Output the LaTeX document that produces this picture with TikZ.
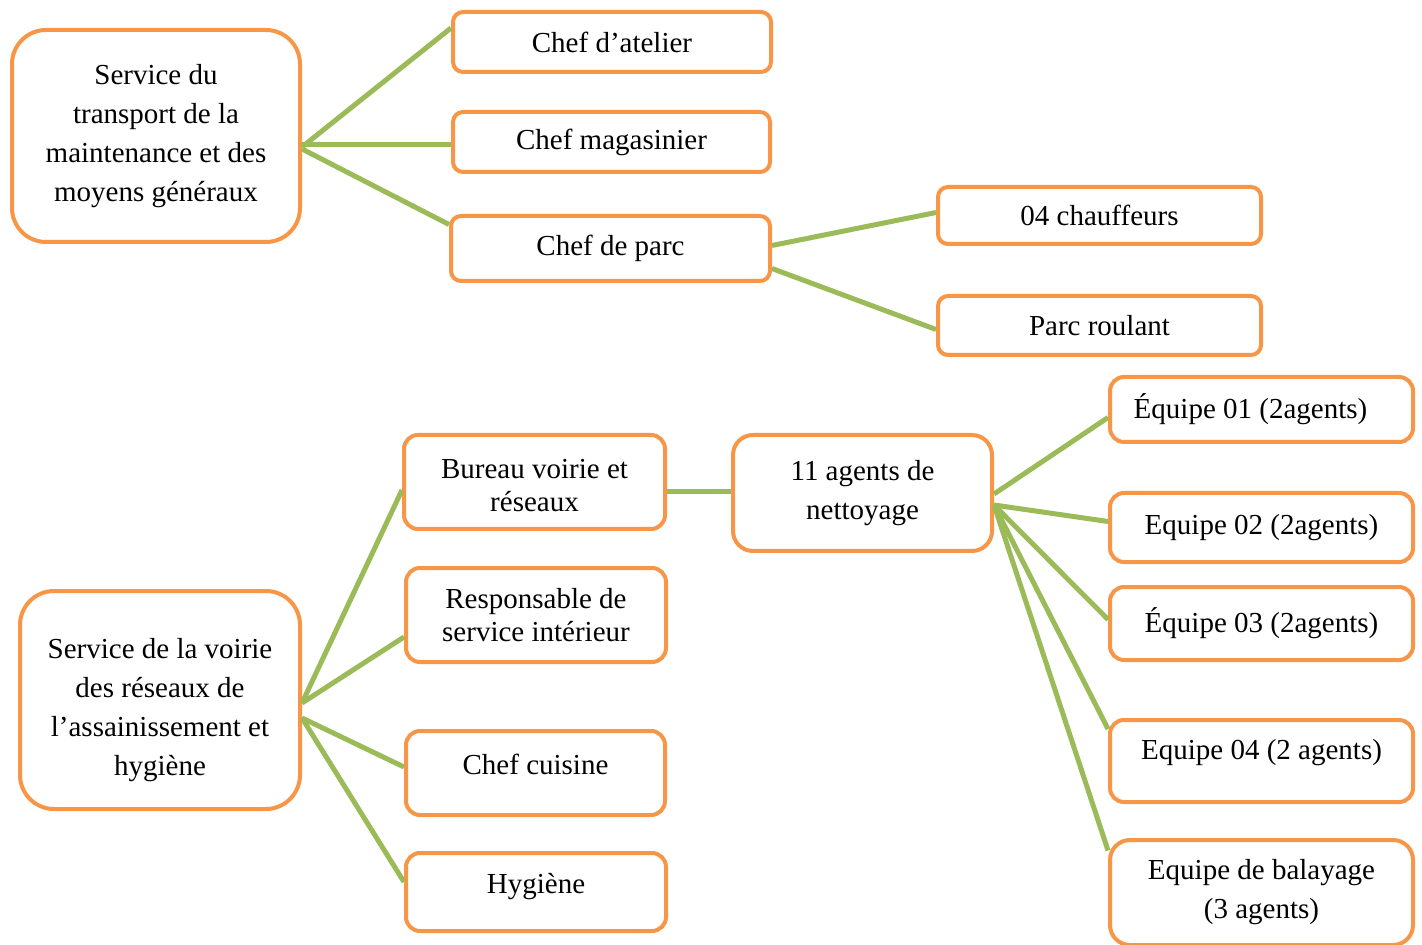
\documentclass[tikz,border=0pt]{standalone}
\usepackage{fontspec}
\setmainfont{Liberation Serif}
\usetikzlibrary{positioning}
\definecolor{orangebord}{HTML}{F79646}
\definecolor{vertlien}{HTML}{9BBB59}
\tikzset{
  boite/.style={
    rectangle,
    rounded corners=5pt,
    draw=orangebord,line width=2pt,
    fill=white,
    align=center,
    inner sep=2pt,
    font=\fontsize{14.5}{19.5}\selectfont},
  boiteserree/.style={
    boite,
    rounded corners=7pt,
    font=\fontsize{14.5}{16.5}\selectfont},
  lien/.style = {draw=vertlien,line width=2.5pt},
}

\begin{document}
\begin{tikzpicture}[x=0.5pt,y=-0.5pt]
  \useasboundingbox (0,0) rectangle (1422,945);
  % service du transport
  \node[boite,rounded corners=17pt,minimum width=144pt,minimum height=106pt](transport) at (156,136) {Service du\\transport de la\\maintenance et des\\moyens généraux};
  \node[boite,minimum width=159pt,minimum height=30pt](atelier) at (612,42) {Chef d’atelier};
  \node[boite,minimum width=158.5pt,minimum height=30pt](magasin) at (611.5,142) {Chef magasinier};
  \node[boite,minimum width=159.5pt,minimum height=32.5pt](parc) at (610.5,248.5) {Chef de parc};
  \node[boite,minimum width=161.5pt,minimum height=28.5pt](chauffeurs) at (1099.5,215.5) {04 chauffeurs};
  \node[boite,minimum width=161.5pt,minimum height=29.5pt](roulant) at (1099.5,325.5) {Parc roulant};
  \draw[lien] ([yshift=-5.5pt]transport.east) -- ([yshift=7pt]atelier.west);
  \draw[lien] ([yshift=-4.5pt]transport.east) -- ([yshift=-1.5pt]magasin.west);
  \draw[lien] ([yshift=-6.5pt]transport.east) -- ([yshift=12pt]parc.west);
  \draw[lien] ([yshift=1.5pt]parc.east) -- ([yshift=1.5pt]chauffeurs.west);
  \draw[lien] ([yshift=-10pt]parc.east) -- ([yshift=-2pt]roulant.west);
  % service de la voirie
  \node[boite,rounded corners=17pt,minimum width=140pt,minimum height=109pt](voirie) at (160,700) {\rule{0pt}{20pt}Service de la voirie\\des réseaux de\\l’assainissement et\\hygiène};
  \node[boiteserree,minimum width=130.5pt,minimum height=47pt](bureau) at (534.5,482) {\rule{0pt}{13pt}Bureau voirie et\\réseaux};
  \node[boiteserree,minimum width=130pt,minimum height=47pt](responsable) at (536,615) {Responsable de\\service intérieur};
  \node[boiteserree,minimum width=129.5pt,minimum height=42pt,text depth=9pt](cuisine) at (535.5,773) {Chef cuisine};
  \node[boiteserree,minimum width=130pt,minimum height=39pt,text depth=9pt](hygiene) at (536,892) {Hygiène};
  \node[boite,rounded corners=10pt,minimum width=129.5pt,minimum height=58pt](agents) at (862.5,493) {11 agents de\\nettoyage};
  \node[boite,rounded corners=7pt,minimum width=151.5pt,minimum height=32.5pt](equipeun) at (1261.5,409.5) {Équipe 01 (2agents)\hspace*{11pt}};
  \node[boite,rounded corners=7pt,minimum width=151.5pt,minimum height=34.5pt](equipedeux) at (1261.5,527.5) {Equipe 02 (2agents)};
  \node[boite,rounded corners=7pt,minimum width=151.5pt,minimum height=36.5pt](equipetrois) at (1261.5,623.5) {Équipe 03 (2agents)};
  \node[boite,rounded corners=7pt,minimum width=151.5pt,minimum height=41pt,text depth=11.5pt](equipequatre) at (1261.5,761) {Equipe 04 (2 agents)};
  \node[boite,rounded corners=10pt,minimum width=151.5pt,minimum height=52.5pt](balayage) at (1261.5,892.5) {Equipe de balayage\\(3 agents)};
  \draw[lien] ([yshift=-1.5pt]voirie.east) -- ([yshift=-4pt]bureau.west);
  \draw[lien] ([yshift=-1.5pt]voirie.east) -- ([yshift=-11pt]responsable.west);
  \draw[lien] ([yshift=-9pt]voirie.east) -- ([yshift=3pt]cuisine.west);
  \draw[lien] ([yshift=-9pt]voirie.east) -- ([yshift=5pt]hygiene.west);
  \draw[lien] ([yshift=-5pt]bureau.east) -- ([yshift=0.5pt]agents.west);
  \draw[lien] ([yshift=-0.5pt]agents.east) -- ([yshift=-4pt]equipeun.west);
  \draw[lien] ([yshift=-6pt]agents.east) -- ([yshift=3pt]equipedeux.west);
  \draw[lien] ([yshift=-6pt]agents.east) -- ([yshift=2pt]equipetrois.west);
  \draw[lien] ([yshift=-6pt]agents.east) -- ([yshift=16pt]equipequatre.west);
  \draw[lien] ([yshift=-6pt]agents.east) -- ([yshift=21pt]balayage.west);
\end{tikzpicture}
\end{document}
